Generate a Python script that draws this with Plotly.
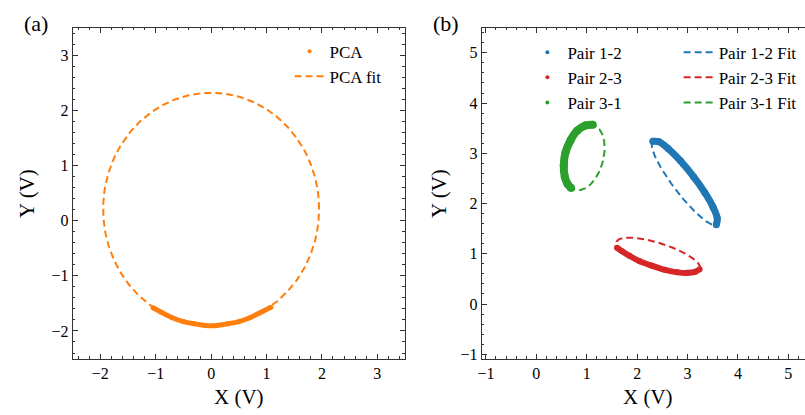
import numpy as np
import plotly.graph_objects as go

W, H = 805, 415
FONT = "Liberation Serif"
ORANGE, BLUE, RED, GREEN = "#ff7f0e", "#1f77b4", "#d62728", "#2ca02c"
AX = "#333333"

# ---------------- panel (a): PCA samples read along the arc ----------------
pca_x = [-1.05, -0.90, -0.70, -0.50, -0.30, -0.10, 0.10, 0.30, 0.50, 0.70, 0.90, 1.08]
pca_y = [-1.58, -1.66, -1.76, -1.83, -1.87, -1.90, -1.90, -1.87, -1.83, -1.76, -1.66, -1.57]
# PCA ellipse fit parameters: centre, semi-axes, rotation (deg)
pca_fit_c = [0.0, 0.21]
pca_fit_ab = [1.95, 2.11]
pca_fit_deg = 0.0

# ---------------- panel (b): pair samples read along the arcs --------------
pair12_x = [3.57, 3.59, 3.51, 3.34, 3.115, 2.86, 2.62, 2.43, 2.31]
pair12_y = [1.58, 1.70, 1.92, 2.22, 2.54, 2.85, 3.09, 3.23, 3.24]
pair23_x = [1.60, 1.70, 1.85, 2.05, 2.30, 2.55, 2.80, 3.00, 3.15, 3.24]
pair23_y = [1.12, 1.05, 0.96, 0.85, 0.76, 0.68, 0.63, 0.62, 0.64, 0.69]
pair31_x = [1.12, 0.97, 0.81, 0.68, 0.58, 0.545, 0.565, 0.62, 0.69]
pair31_y = [3.57, 3.555, 3.45, 3.26, 3.02, 2.76, 2.53, 2.39, 2.31]

pair_names = ["Pair 1-2", "Pair 2-3", "Pair 3-1"]
pair_colors = [BLUE, RED, GREEN]
pair_band = [7, 6, 8]
# ellipse fit parameters per pair
fit_cx = [2.94, 2.42, 0.95]
fit_cy = [2.41, 0.97, 2.92]
fit_a = [1.04, 0.87, 0.67]
fit_b = [0.22, 0.24, 0.38]
fit_deg = [-52.8, -18.0, 75.0]


def ellipse(cx, cy, a, b, deg, n=400):
    t = np.linspace(0, 2 * np.pi, n)
    th = np.radians(deg)
    x = cx + a * np.cos(t) * np.cos(th) - b * np.sin(t) * np.sin(th)
    y = cy + a * np.cos(t) * np.sin(th) + b * np.sin(t) * np.cos(th)
    return x, y


DASH = "7px,4px"
LW = 2.0
fig = go.Figure()

# panel (a)
ex, ey = ellipse(pca_fit_c[0], pca_fit_c[1], pca_fit_ab[0], pca_fit_ab[1], pca_fit_deg)
fig.add_trace(go.Scatter(x=ex, y=ey, mode="lines", line=dict(color=ORANGE, width=LW, dash=DASH),
                         showlegend=False, xaxis="x", yaxis="y"))
fig.add_trace(go.Scatter(x=pca_x, y=pca_y, mode="lines+markers", line=dict(color=ORANGE, width=5, shape="spline"),
                         marker=dict(color=ORANGE, size=5), showlegend=False, xaxis="x", yaxis="y"))
fig.add_trace(go.Scatter(x=[None], y=[None], mode="markers", name="PCA", marker=dict(color=ORANGE, size=4),
                         legend="legend", xaxis="x", yaxis="y"))
fig.add_trace(go.Scatter(x=[None], y=[None], mode="lines", name="PCA fit",
                         line=dict(color=ORANGE, width=LW, dash=DASH), legend="legend", xaxis="x", yaxis="y"))

# panel (b)
pairs_x = [pair12_x, pair23_x, pair31_x]
pairs_y = [pair12_y, pair23_y, pair31_y]
for i in range(3):
    ex, ey = ellipse(fit_cx[i], fit_cy[i], fit_a[i], fit_b[i], fit_deg[i])
    fig.add_trace(go.Scatter(x=ex, y=ey, mode="lines", line=dict(color=pair_colors[i], width=LW, dash=DASH),
                             showlegend=False, xaxis="x2", yaxis="y2"))
    fig.add_trace(go.Scatter(x=pairs_x[i], y=pairs_y[i], mode="lines+markers",
                             line=dict(color=pair_colors[i], width=pair_band[i], shape="spline"),
                             marker=dict(color=pair_colors[i], size=pair_band[i]),
                             showlegend=False, xaxis="x2", yaxis="y2"))
for i in range(3):
    fig.add_trace(go.Scatter(x=[None], y=[None], mode="markers", name=pair_names[i],
                             marker=dict(color=pair_colors[i], size=4), legend="legend2",
                             xaxis="x2", yaxis="y2"))
for i in range(3):
    fig.add_trace(go.Scatter(x=[None], y=[None], mode="lines", name=pair_names[i] + " Fit",
                             line=dict(color=pair_colors[i], width=LW, dash=DASH), legend="legend3",
                             xaxis="x2", yaxis="y2"))


def axis(rng, dom, mirror="ticks", anchor=None):
    d = dict(range=rng, domain=dom, showline=True, linecolor=AX, linewidth=1, mirror=mirror,
             ticks="inside", ticklen=5, tickwidth=1, tickcolor=AX, dtick=1, tick0=0,
             showgrid=False, zeroline=False,
             minor=dict(ticks="inside", ticklen=2.5, tickwidth=1, tickcolor=AX, dtick=0.2, tick0=0, showgrid=False),
             tickfont=dict(family=FONT, size=16, color="black"))
    if anchor:
        d["anchor"] = anchor
    return d


xa = [69 / W, 403 / W]
xb = [480 / W, 1.0]
yd = [1 - 362 / H, 1 - 28 / H]

leg_common = dict(xanchor="left", yanchor="top", xref="paper", yref="paper",
                  bgcolor="rgba(0,0,0,0)", borderwidth=0,
                  font=dict(family=FONT, size=17, color="black"), itemwidth=30, tracegroupgap=0)

ann = []
def txt(s, x, y, size, angle=0):
    ann.append(dict(text=s, x=x / W, y=1 - y / H, xref="paper", yref="paper", showarrow=False,
                    xanchor="center", yanchor="middle", textangle=angle,
                    font=dict(family=FONT, size=size, color="black")))

txt("(a)", 32, 24, 22)
txt("(b)", 444, 24, 22)
txt("X (V)", 236, 401, 21)
txt("X (V)", 647, 401, 21)
txt("Y (V)", 23, 195, 21, -90)
txt("Y (V)", 437, 195, 21, -90)

fig.update_layout(
    width=W, height=H, margin=dict(l=0, r=0, t=0, b=0),
    paper_bgcolor="white", plot_bgcolor="white",
    xaxis=axis([-2.5, 3.5], xa, anchor="y"),
    yaxis=axis([-2.5, 3.5], yd, anchor="x"),
    xaxis2=axis([-1.085, 5.33], xb, anchor="y2"),
    yaxis2=axis([-1.085, 5.5], yd, mirror=False, anchor="x2"),
    legend=dict(x=287 / W, y=1 - 34 / H, **leg_common),
    legend2=dict(x=526 / W, y=1 - 35 / H, **leg_common),
    legend3=dict(x=678 / W, y=1 - 35 / H, **leg_common),
    annotations=ann,
)

fig.write_html("out.html")
